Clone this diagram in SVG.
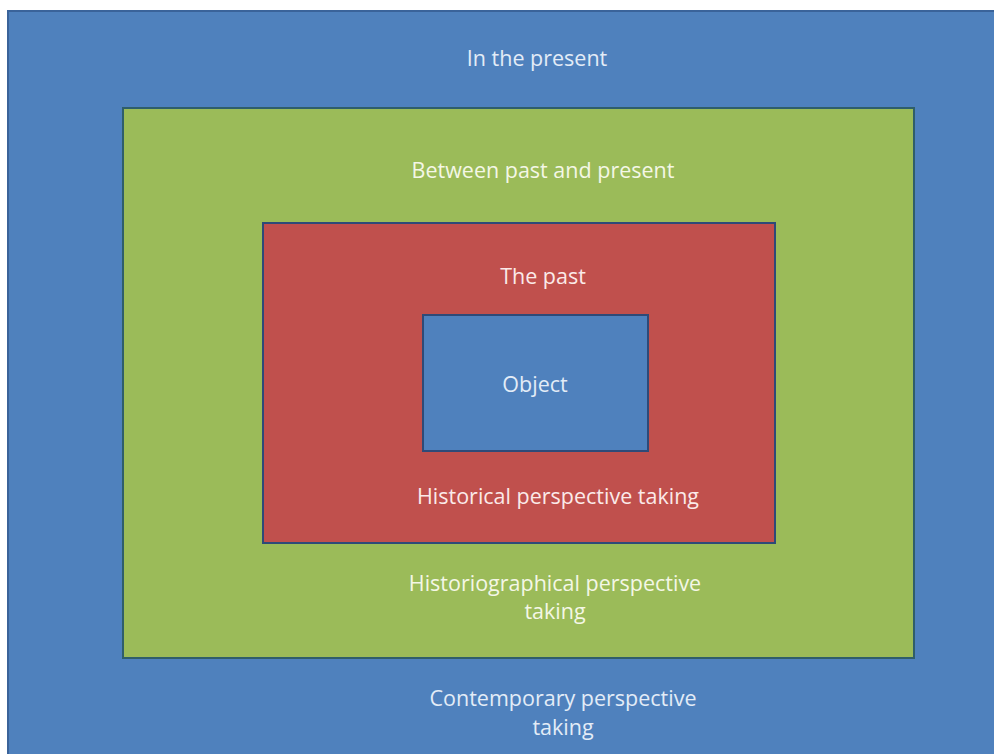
<svg xmlns="http://www.w3.org/2000/svg" width="994" height="754" viewBox="0 0 994 754">
<style>
text{font-family:"Open Sans","Liberation Sans",sans-serif;font-size:21.5px;text-anchor:middle}
.tb{fill:#E3ECF7}
.tg{fill:#F4F7E6}
.tr{fill:#FBEAE9}
</style>
<rect x="0" y="0" width="994" height="754" fill="#ffffff"/>
<g id="present">
<rect x="8" y="11" width="1000" height="760" fill="#4F81BD" stroke="#3A639A" stroke-width="2"/>
<text class="tb" x="537" y="66">In the present</text>
<text class="tb" x="563" y="706">Contemporary perspective</text>
<text class="tb" x="563" y="735">taking</text>
</g>
<g id="between">
<rect x="123" y="108" width="791" height="550" fill="#9BBB59" stroke="#2F5E6A" stroke-width="2"/>
<text class="tg" x="543" y="178">Between past and present</text>
<text class="tg" x="555" y="591">Historiographical perspective</text>
<text class="tg" x="555" y="619">taking</text>
</g>
<g id="past">
<rect x="263" y="223" width="512" height="320" fill="#C0504D" stroke="#2E4A78" stroke-width="2"/>
<text class="tr" x="543" y="284">The past</text>
<text class="tr" x="558" y="504">Historical perspective taking</text>
</g>
<g id="object">
<rect x="423" y="315" width="225" height="136" fill="#4F81BD" stroke="#2E4A78" stroke-width="2"/>
<text class="tb" x="535" y="392">Object</text>
</g>
<g id="connectors"></g>
</svg>
